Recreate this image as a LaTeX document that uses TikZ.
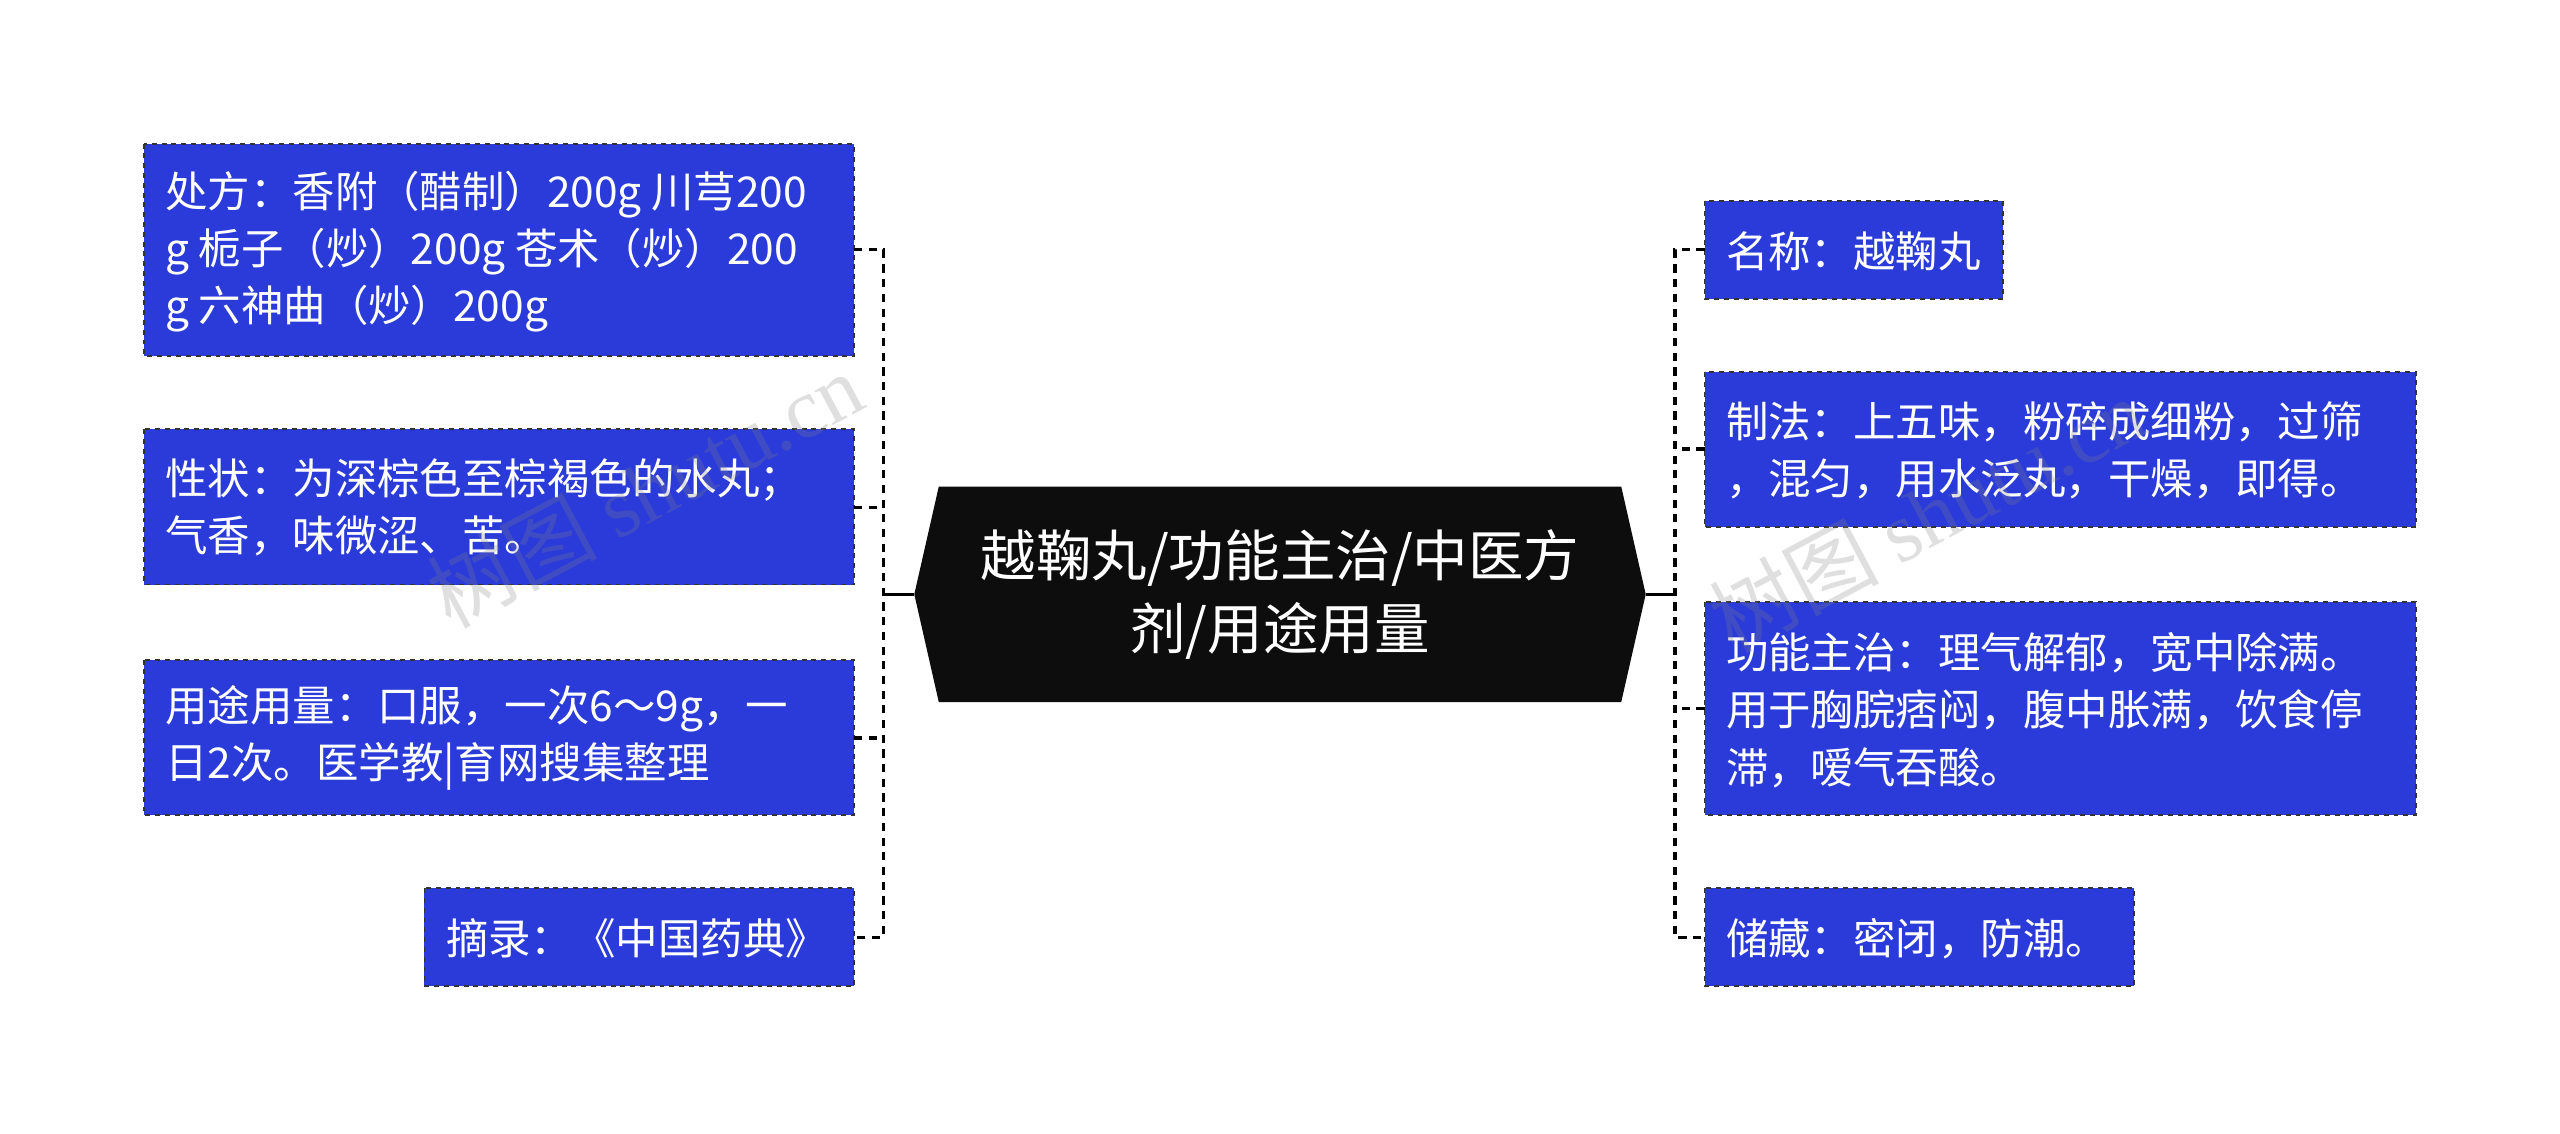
\documentclass[tikz,border=0pt]{standalone}
\usepackage{fontspec}
\setmainfont{Noto Sans CJK SC}
\setsansfont{Liberation Serif}
\begin{document}
\begin{tikzpicture}[x=1pt,y=-1pt,
  box/.style={draw=black!80,dashed,line width=1.2pt,fill=boxblue},
  leaf/.style={text=white,inner sep=0pt,font=\fontsize{26}{35}\selectfont,align=left,anchor=west},
  wm/.style={text=gray,opacity=0.25,rotate=28,font=\fontsize{52}{52}\selectfont},
  conn/.style={draw=black,line width=2pt,dash pattern=on 5pt off 4pt}]
\definecolor{boxblue}{HTML}{2A3BDA}
\useasboundingbox (0,0) rectangle (1568,694);
\fill[white] (0,0) rectangle (1568,694);
% boxes
\draw[box] (88,88) rectangle (523,218);
\node[leaf] (l1) at (101,154) {处方：香附（醋制）200g 川芎200\\g 栀子（炒）200g 苍术（炒）200\\g 六神曲（炒）200g};
\draw[box] (88,263) rectangle (523,358);
\node[leaf] (l2) at (101,311) {性状：为深棕色至棕褐色的水丸；\\气香，味微涩、苦。};
\draw[box] (88,404) rectangle (523,499);
\node[leaf] (l3) at (101,452) {用途用量：口服，一次6～9g，一\\日2次。医学教|育网搜集整理};
\draw[box] (260,544) rectangle (523,604);
\node[leaf] (l4) at (273,575) {摘录：《中国药典》};
\draw[box] (1044,123) rectangle (1227,183);
\node[leaf] (r1) at (1057,154) {名称：越鞠丸};
\draw[box] (1044,228) rectangle (1480,323);
\node[leaf] (r2) at (1057,276) {制法：上五味，粉碎成细粉，过筛\\，混匀，用水泛丸，干燥，即得。};
\draw[box] (1044,369) rectangle (1480,499);
\node[leaf] (r3) at (1057,435) {功能主治：理气解郁，宽中除满。\\用于胸脘痞闷，腹中胀满，饮食停\\滞，嗳气吞酸。};
\draw[box] (1044,544) rectangle (1307,604);
\node[leaf] (r4) at (1057,575) {储藏：密闭，防潮。};
% center
\fill[black!95] (560,364) -- (575,298) -- (993,298) -- (1008,364) -- (993,430) -- (575,430) -- cycle;
\node[text=white,align=center,inner sep=0pt,font=\fontsize{34}{45}\selectfont] (c) at (784,364) {越鞠丸/功能主治/中医方\\剂/用途用量};
\coordinate (cl) at (560,364); \coordinate (cr) at (1008,364);
\coordinate (sl) at (541,364); \coordinate (sr) at (1026,364);
% connectors
\draw[line width=2pt] (cl) -- (sl);
\draw[line width=2pt] (cr) -- (sr);
\draw[conn] (523,153) -- (541,153) -- (541,574) -- (523,574);
\draw[conn] (523,311) -- (541,311);
\draw[conn] (523,452) -- (541,452);
\draw[conn] (1044,153) -- (1026,153) -- (1026,574) -- (1044,574);
\draw[conn] (1044,275) -- (1026,275);
\draw[conn] (1044,434) -- (1026,434);
% watermarks
\node[wm] (w1) at (395,300) {树图 \sffamily shutu.cn};
\node[wm] (w2) at (1180,315) {树图 \sffamily shutu.cn};
\end{tikzpicture}
\end{document}
